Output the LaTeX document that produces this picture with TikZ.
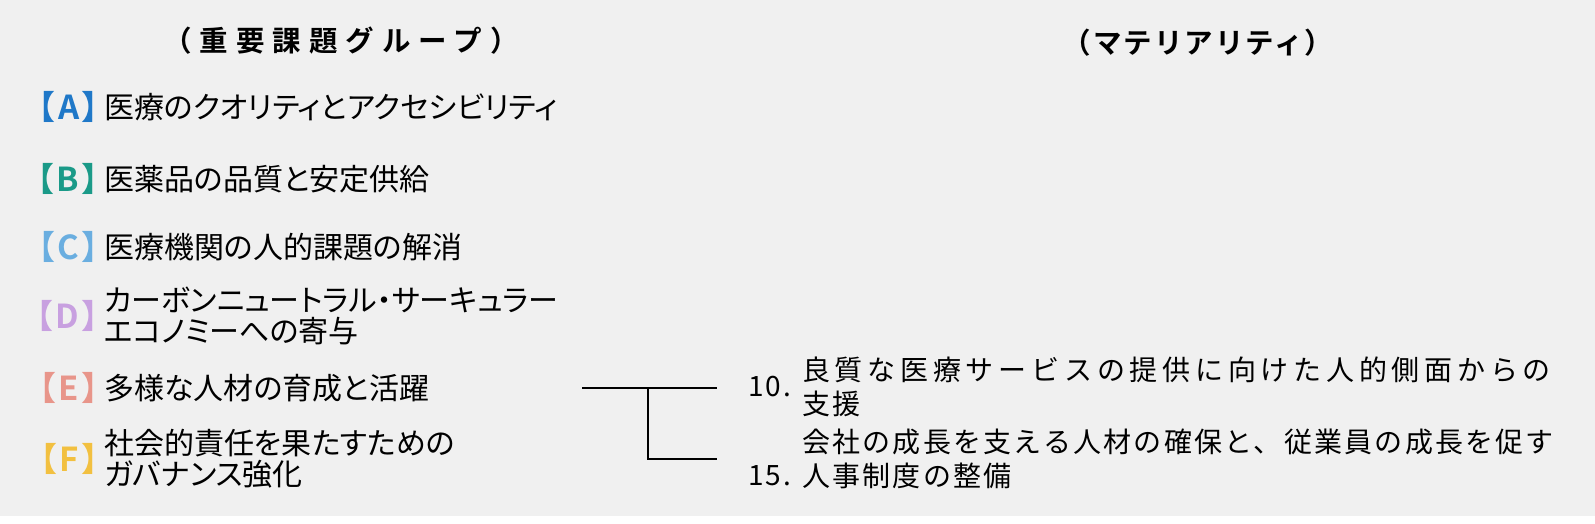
\documentclass[tikz,border=0pt]{standalone}
\usepackage{fontspec}
\usepackage{tikz}
\usetikzlibrary{positioning}
\newfontfamily\jp[RawFeature=+palt]{Noto Sans CJK JP}
\newfontfamily\jpb[RawFeature=+palt]{Noto Sans CJK JP Bold}
\newfontfamily\jpr[LetterSpace=8]{Noto Sans CJK JP}
\newfontfamily\jprw[LetterSpace=17]{Noto Sans CJK JP}
\newfontfamily\jphl[LetterSpace=28]{Noto Sans CJK JP Bold}
\newfontfamily\jphr[LetterSpace=7]{Noto Sans CJK JP Bold}
\definecolor{cBg}{HTML}{F0F0F0}
\definecolor{cA}{HTML}{1F78C8}
\definecolor{cB}{HTML}{1A9A88}
\definecolor{cC}{HTML}{6AAEE0}
\definecolor{cD}{HTML}{C8A0E0}
\definecolor{cE}{HTML}{E8958A}
\definecolor{cF}{HTML}{F2C040}
\tikzset{
  ghead/.style={inner sep=0pt, font=\jphl\fontsize{28.5pt}{30pt}\selectfont},
  mhead/.style={inner sep=0pt, font=\jphr\fontsize{28.5pt}{30pt}\selectfont},
  gtag/.style={anchor=east, inner sep=0pt, font=\jpb\fontsize{33pt}{33pt}\selectfont, text=#1},
  gtxt/.style={anchor=west, inner sep=0pt, align=left,
               font=\jp\fontsize{30pt}{31pt}\selectfont},
  mnum/.style={anchor=west, inner sep=0pt, font=\jpr\fontsize{28pt}{33pt}\selectfont},
  mtxt/.style={anchor=west, inner sep=0pt, align=left,
               font=\jpr\fontsize{28pt}{33.5pt}\selectfont},
  link/.style={line width=1.4pt, draw=black},
}
\newcommand{\gkey}[1]{【\kern3pt#1\kern3pt】}

\begin{document}
\begin{tikzpicture}[x=1pt, y=-1pt]
\useasboundingbox (0,0) rectangle (1595,524);
\fill[cBg] (0,0) rectangle (1595,516);
% ---- column headers
\node[ghead] (hgrp) at (341,41) {（重要課題グループ）};
\node[mhead] (hmat) at (1198,43) {（マテリアリティ）};
% ---- groups A to F
\foreach \k/\c/\y in {A/cA/107, B/cB/179, C/cC/247, D/cD/316, E/cE/388, F/cF/459}
  \node[gtag=\c] (t\k) at (99,\y) {\gkey{\k}};
\node[gtxt] (gA) at (104,107) {医療のクオリティとアクセシビリティ};
\node[gtxt] (gB) at (104,179) {医薬品の品質と安定供給};
\node[gtxt] (gC) at (104,247) {医療機関の人的課題の解消};
\node[gtxt] (gD) at (104,316) {カーボンニュートラル・サーキュラー\\エコノミーへの寄与};
\node[gtxt] (gE) at (104,388) {多様な人材の育成と活躍};
\node[gtxt] (gF) at (104,459) {社会的責任を果たすための\\ガバナンス強化};
% ---- materiality items
\node[mnum] (n10) at (748,387) {10.};
\node[mtxt] (m10) at (802,387) {{\jprw 良質な医療サービスの提供に向けた人的側面からの}\\支援};
\node[mtxt] (m15) at (802,459) {会社の成長を支える人材の確保と、従業員の成長を促す\\人事制度の整備};
\node[mnum] (n15) at (748,476) {15.};
% ---- links from E to 10 and 15
\coordinate (eL) at (582,388);
\coordinate (jn) at (648,388);
\draw[link, shorten >=85pt] (eL) -- (eL -| m10.west);
\draw[link, shorten >=85pt] (jn) |- (m15.west);
\end{tikzpicture}
\end{document}
